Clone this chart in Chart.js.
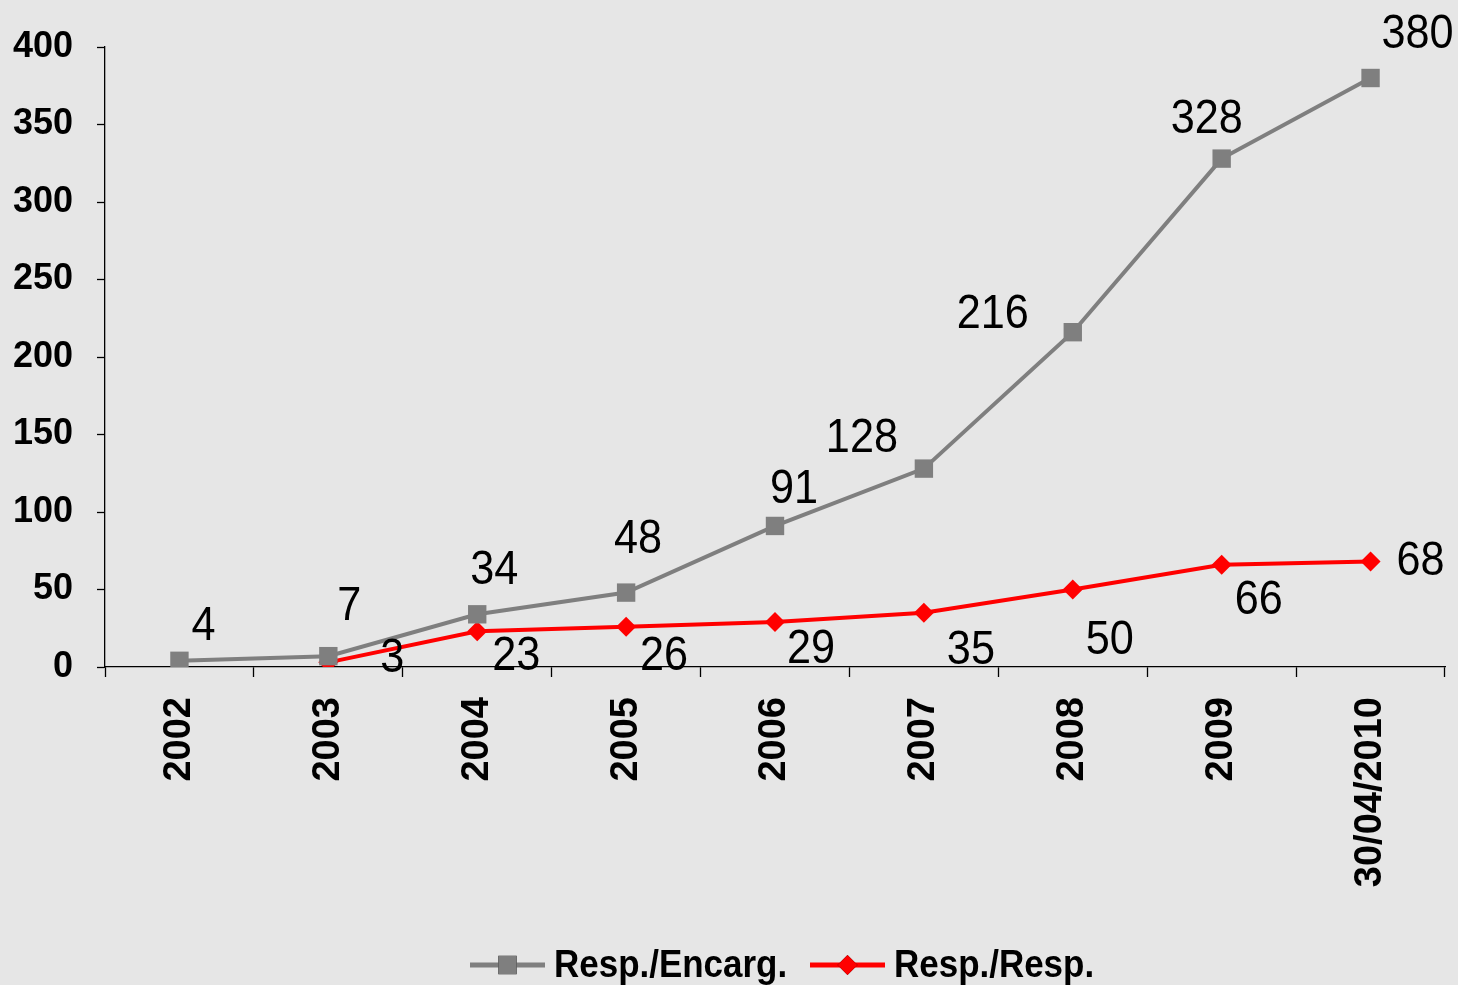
<!DOCTYPE html>
<html>
<head>
<meta charset="utf-8">
<script src="https://cdn.jsdelivr.net/npm/chart.js@4.4.0/dist/chart.umd.min.js"></script>
<style>
  html, body { margin: 0; padding: 0; background: #e6e6e6; }
  #wrap { width: 1458px; height: 985px; position: relative; }
</style>
</head>
<body>
<div id="wrap"><canvas id="chart" width="1458" height="985"></canvas></div>
<script>
const categories = ['2002', '2003', '2004', '2005', '2006', '2007', '2008', '2009', '30/04/2010'];
const encargValues = [4, 7, 34, 48, 91, 128, 216, 328, 380];
const respValues = [null, 3, 23, 26, 29, 35, 50, 66, 68];
const yTicks = [0, 50, 100, 150, 200, 250, 300, 350, 400];

// where each value label sits relative to its point (px)
const encargLabelShift = [[24,-34],[21,-49],[17,-44],[12,-53],[19,-36],[-62,-30],[-80,-17],[-15,-39],[47,-43]];
const respLabelShift = [null,[64,-4],[39,25],[38,30],[36,28],[47,38],[37,51],[37,36],[50,0]];

const valueLabels = {
  id: 'valueLabels',
  afterDatasetsDraw(chart) {
    const ctx = chart.ctx;
    const shifts = [encargLabelShift, respLabelShift];
    chart.data.datasets.forEach((ds, i) => {
      const meta = chart.getDatasetMeta(i);
      meta.data.forEach((pt, j) => {
        const v = ds.data[j];
        if (v === null || v === undefined) return;
        const s = shifts[i][j];
        ctx.save();
        ctx.translate(pt.x + s[0], pt.y + s[1]);
        ctx.scale(0.9, 1);
        ctx.font = '48px "Liberation Sans", Arial, sans-serif';
        ctx.fillStyle = '#000';
        ctx.textAlign = 'center';
        ctx.textBaseline = 'middle';
        ctx.fillText(String(v), 0, 0);
        ctx.restore();
      });
    });
  }
};

const bottomLegend = {
  id: 'bottomLegend',
  afterDraw(chart) {
    const ctx = chart.ctx;
    const items = [[470, 965], [810, 965]];
    chart.data.datasets.forEach((ds, i) => {
      const [x, y] = items[i];
      ctx.save();
      ctx.strokeStyle = ds.borderColor;
      ctx.lineWidth = 5;
      ctx.beginPath();
      ctx.moveTo(x, y);
      ctx.lineTo(x + 75, y);
      ctx.stroke();
      Chart.helpers.drawPoint(ctx, {
        pointStyle: ds.pointStyle, radius: ds.pointRadius, borderWidth: 0
      }, x + 37.5, y);
      ctx.fillStyle = ds.pointBackgroundColor;
      ctx.fill();
      ctx.translate(x + 84, y + 2);
      ctx.scale(0.92, 1);
      ctx.font = 'bold 38px "Liberation Sans", Arial, sans-serif';
      ctx.fillStyle = '#000';
      ctx.textBaseline = 'middle';
      ctx.fillText(ds.label, 0, 0);
      ctx.restore();
    });
  }
};

new Chart(document.getElementById('chart'), {
  type: 'line',
  data: {
    labels: categories,
    datasets: [{
      label: 'Resp./Encarg.',
      data: encargValues,
      borderColor: '#7f7f7f',
      backgroundColor: '#7f7f7f',
      pointBackgroundColor: '#7f7f7f',
      pointBorderColor: '#7f7f7f',
      pointStyle: 'rect',
      pointRadius: 13,
      pointBorderWidth: 0,
      borderWidth: 4,
      tension: 0
    }, {
      label: 'Resp./Resp.',
      data: respValues,
      borderColor: '#ff0000',
      backgroundColor: '#ff0000',
      pointBackgroundColor: '#ff0000',
      pointBorderColor: '#ff0000',
      pointStyle: 'rectRot',
      pointRadius: 10,
      pointBorderWidth: 0,
      borderWidth: 4,
      tension: 0
    }]
  },
  options: {
    responsive: false,
    animation: false,
    layout: { padding: { top: 47, right: 11, left: 0, bottom: 78 } },
    plugins: { legend: { display: false }, tooltip: { enabled: false } },
    scales: {
      x: {
        offset: true,
        grid: { drawOnChartArea: false, offset: true, color: '#000', tickLength: 10, tickWidth: 1.3 },
        border: { color: '#000', width: 1.3 },
        ticks: {
          maxRotation: 90, minRotation: 90, padding: 20, color: '#000',
          font: { family: '"Liberation Sans", Arial, sans-serif', size: 38, weight: 'bold' }
        },
        afterFit(scale) { scale.height = 240; }
      },
      y: {
        min: 0, max: 400,
        afterBuildTicks(scale) { scale.ticks = yTicks.map(v => ({ value: v })); },
        grid: { drawOnChartArea: false, color: '#000', tickLength: 8, tickWidth: 1.3 },
        border: { color: '#000', width: 1.3 },
        ticks: {
          padding: 24, color: '#000',
          font: { family: '"Liberation Sans", Arial, sans-serif', size: 36, weight: 'bold' }
        },
        afterFit(scale) { scale.width = 105; }
      }
    }
  },
  plugins: [valueLabels, bottomLegend]
});
</script>
</body>
</html>
